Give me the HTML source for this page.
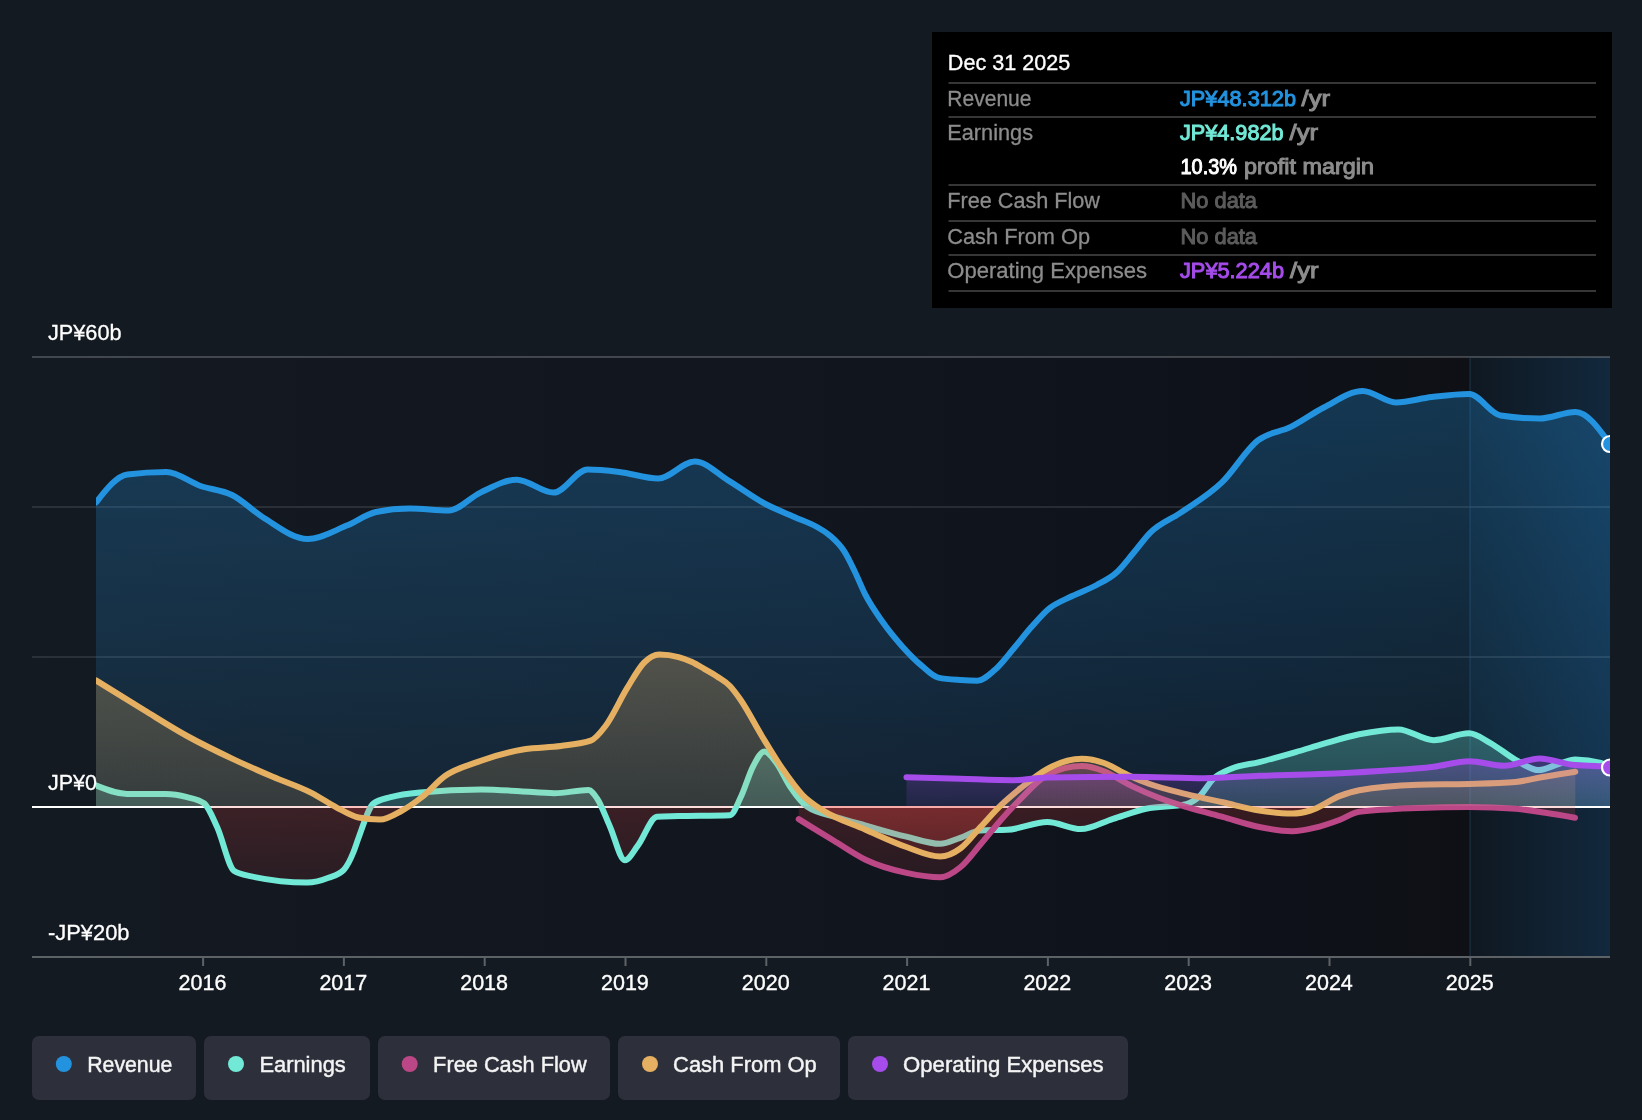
<!DOCTYPE html>
<html><head><meta charset="utf-8"><style>
html,body{margin:0;padding:0;background:#141a22;}
body{width:1642px;height:1120px;overflow:hidden;font-family:"Liberation Sans",sans-serif;}
svg{display:block;will-change:transform;}
</style></head><body>
<svg width="1642" height="1120" viewBox="0 0 1642 1120" font-family='"Liberation Sans", sans-serif'>
<defs>
<linearGradient id="bgG" gradientUnits="userSpaceOnUse" x1="32" y1="0" x2="1470" y2="0"><stop offset="0.0000" stop-color="#141a22"/><stop offset="0.2559" stop-color="#131820"/><stop offset="0.6036" stop-color="#11151e"/><stop offset="0.7427" stop-color="#0f131b"/><stop offset="0.8818" stop-color="#0e1119"/><stop offset="0.9513" stop-color="#0e1116"/><stop offset="1.0000" stop-color="#0e1015"/></linearGradient>
<linearGradient id="hlG" gradientUnits="userSpaceOnUse" x1="1470" y1="0" x2="1610" y2="0"><stop offset="0" stop-color="#0f1821"/><stop offset="1" stop-color="#12283d"/></linearGradient>
<linearGradient id="gRev" gradientUnits="userSpaceOnUse" x1="0" y1="380" x2="0" y2="807"><stop offset="0" stop-color="#2393df" stop-opacity="0.3"/><stop offset="1" stop-color="#2393df" stop-opacity="0.107"/></linearGradient>
<linearGradient id="gEarn" gradientUnits="userSpaceOnUse" x1="0" y1="725" x2="0" y2="807"><stop offset="0" stop-color="#72e9d7" stop-opacity="0.3"/><stop offset="1" stop-color="#72e9d7" stop-opacity="0.2"/></linearGradient>
<linearGradient id="gFcf" gradientUnits="userSpaceOnUse" x1="0" y1="760" x2="0" y2="807"><stop offset="0" stop-color="#bc4787" stop-opacity="0.3"/><stop offset="1" stop-color="#bc4787" stop-opacity="0.15"/></linearGradient>
<linearGradient id="gCfo" gradientUnits="userSpaceOnUse" x1="0" y1="655" x2="0" y2="807"><stop offset="0" stop-color="#e5b062" stop-opacity="0.29"/><stop offset="1" stop-color="#e5b062" stop-opacity="0.15"/></linearGradient>
<linearGradient id="gOpex" gradientUnits="userSpaceOnUse" x1="0" y1="758" x2="0" y2="807"><stop offset="0" stop-color="#a54ceb" stop-opacity="0.3"/><stop offset="1" stop-color="#a54ceb" stop-opacity="0.09"/></linearGradient>
<linearGradient id="gNeg" gradientUnits="userSpaceOnUse" x1="0" y1="807" x2="0" y2="885"><stop offset="0" stop-color="#ee4640" stop-opacity="0.185"/><stop offset="1" stop-color="#ee4640" stop-opacity="0.095"/></linearGradient>
<clipPath id="cp"><rect x="96" y="340" width="1514" height="617"/></clipPath>
<clipPath id="cpPos"><rect x="32" y="340" width="1578" height="466"/></clipPath>
<clipPath id="cpNeg"><rect x="32" y="806" width="1578" height="151"/></clipPath>
<linearGradient id="hlO" gradientUnits="userSpaceOnUse" x1="1470" y1="800" x2="1610" y2="420"><stop offset="0" stop-color="#2394df" stop-opacity="0.0"/><stop offset="1" stop-color="#2394df" stop-opacity="0.15"/></linearGradient>
<clipPath id="cpHL"><rect x="1470" y="340" width="140" height="617"/></clipPath>
</defs>
<rect width="1642" height="1120" fill="#141a22"/>
<rect x="32" y="357" width="1438" height="600" fill="url(#bgG)"/>
<rect x="1470" y="357" width="140" height="600" fill="url(#hlG)"/>
<rect x="32" y="356" width="1578" height="2" fill="#ffffff" fill-opacity="0.2"/>
<rect x="32" y="506" width="1578" height="2" fill="#ffffff" fill-opacity="0.1"/>
<rect x="32" y="656" width="1578" height="2" fill="#ffffff" fill-opacity="0.1"/>
<rect x="1469" y="357" width="2" height="600" fill="#24476a" fill-opacity="0.32"/>
<rect x="32" y="806" width="1578" height="2" fill="#ffffff"/>
<g clip-path="url(#cp)">
<path d="M96,502.5C106.5,489.2 116.9,475.8 127.4,474.5C140.4,472.8 153.4,472 166.4,472C177.8,472 189.1,482.1 200.5,486C211,489.6 221.5,489.7 232,495C242.7,500.3 253.3,511.4 264,518C278.6,527 293.1,539 307.7,539C320.7,539 333.7,531 346.7,525.6C356.5,521.6 366.2,514 376,512C387.3,509.7 398.7,508.6 410,508.6C422.9,508.6 435.8,510.6 448.7,510.6C459.3,510.6 469.8,497.5 480.4,492.6C492.6,486.9 504.7,479.7 516.9,479.7C529.1,479.7 541.3,492.6 553.5,492.6C564.9,492.6 576.2,469.5 587.6,469.5C598.1,469.5 608.7,470.7 619.2,471.9C632.2,473.4 645.2,478.5 658.2,478.5C670.4,478.5 682.6,461.4 694.8,461.4C706.2,461.4 717.5,474.1 728.9,480.9C741.1,488.2 753.2,497.5 765.4,504C775,509.1 784.7,512.7 794.3,517C801.9,520.4 809.4,522.6 817,527C821.3,529.5 825.7,531.9 830,535.7C834.8,539.9 839.5,543.9 844.3,551.4C847.9,557 851.4,564.6 855,572C858.4,579.1 861.9,587.9 865.3,594.7C871,605.8 876.6,613.4 882.3,621.5C888.8,630.8 895.3,638.6 901.8,645.9C908.3,653.2 914.8,659.9 921.3,665.4C927,670.2 932.6,676.4 938.3,677.6C945.6,679.2 953,679.5 960.3,680C966,680.4 971.6,680.7 977.3,680.7C983,680.7 988.7,675.2 994.4,670.3C1000.9,664.8 1007.4,655.9 1013.9,648.3C1019.6,641.6 1025.2,634.1 1030.9,627.6C1036.6,621.1 1042.3,614.3 1048,609.4C1056.1,602.5 1064.2,600.1 1072.3,596C1080.4,591.9 1088.6,589.5 1096.7,585C1103.2,581.4 1109.7,578.7 1116.2,572.8C1121.9,567.7 1127.5,560 1133.2,553.3C1138.9,546.6 1144.6,538.3 1150.3,532.6C1160.2,522.6 1170.1,519.9 1180,513.1C1194,503.5 1207.9,495.9 1221.9,482.4C1233.9,470.8 1245.9,449.7 1257.9,440.4C1268.9,431.9 1279.8,432.4 1290.8,426.9C1301.8,421.4 1312.8,413.1 1323.8,407.5C1336.8,400.8 1349.8,391 1362.8,391C1373.8,391 1384.7,402.4 1395.7,402.4C1407.7,402.4 1419.7,398.4 1431.7,397C1444.2,395.6 1456.6,394 1469.1,394C1479.6,394 1490.1,413.9 1500.6,415.5C1513.6,417.5 1526.6,418.5 1539.6,418.5C1551.6,418.5 1563.5,412 1575.5,412C1587,412 1598.5,428 1610,444L1610,806 L96,806Z" fill="url(#gRev)"/>
<path d="M96,502.5C106.5,489.2 116.9,475.8 127.4,474.5C140.4,472.8 153.4,472 166.4,472C177.8,472 189.1,482.1 200.5,486C211,489.6 221.5,489.7 232,495C242.7,500.3 253.3,511.4 264,518C278.6,527 293.1,539 307.7,539C320.7,539 333.7,531 346.7,525.6C356.5,521.6 366.2,514 376,512C387.3,509.7 398.7,508.6 410,508.6C422.9,508.6 435.8,510.6 448.7,510.6C459.3,510.6 469.8,497.5 480.4,492.6C492.6,486.9 504.7,479.7 516.9,479.7C529.1,479.7 541.3,492.6 553.5,492.6C564.9,492.6 576.2,469.5 587.6,469.5C598.1,469.5 608.7,470.7 619.2,471.9C632.2,473.4 645.2,478.5 658.2,478.5C670.4,478.5 682.6,461.4 694.8,461.4C706.2,461.4 717.5,474.1 728.9,480.9C741.1,488.2 753.2,497.5 765.4,504C775,509.1 784.7,512.7 794.3,517C801.9,520.4 809.4,522.6 817,527C821.3,529.5 825.7,531.9 830,535.7C834.8,539.9 839.5,543.9 844.3,551.4C847.9,557 851.4,564.6 855,572C858.4,579.1 861.9,587.9 865.3,594.7C871,605.8 876.6,613.4 882.3,621.5C888.8,630.8 895.3,638.6 901.8,645.9C908.3,653.2 914.8,659.9 921.3,665.4C927,670.2 932.6,676.4 938.3,677.6C945.6,679.2 953,679.5 960.3,680C966,680.4 971.6,680.7 977.3,680.7C983,680.7 988.7,675.2 994.4,670.3C1000.9,664.8 1007.4,655.9 1013.9,648.3C1019.6,641.6 1025.2,634.1 1030.9,627.6C1036.6,621.1 1042.3,614.3 1048,609.4C1056.1,602.5 1064.2,600.1 1072.3,596C1080.4,591.9 1088.6,589.5 1096.7,585C1103.2,581.4 1109.7,578.7 1116.2,572.8C1121.9,567.7 1127.5,560 1133.2,553.3C1138.9,546.6 1144.6,538.3 1150.3,532.6C1160.2,522.6 1170.1,519.9 1180,513.1C1194,503.5 1207.9,495.9 1221.9,482.4C1233.9,470.8 1245.9,449.7 1257.9,440.4C1268.9,431.9 1279.8,432.4 1290.8,426.9C1301.8,421.4 1312.8,413.1 1323.8,407.5C1336.8,400.8 1349.8,391 1362.8,391C1373.8,391 1384.7,402.4 1395.7,402.4C1407.7,402.4 1419.7,398.4 1431.7,397C1444.2,395.6 1456.6,394 1469.1,394C1479.6,394 1490.1,413.9 1500.6,415.5C1513.6,417.5 1526.6,418.5 1539.6,418.5C1551.6,418.5 1563.5,412 1575.5,412C1587,412 1598.5,428 1610,444" fill="none" stroke="#2393df" stroke-width="6" stroke-linecap="round" stroke-linejoin="round"/>
<path d="M96,785.5C106.4,789.7 116.7,793.9 127.1,793.9C140,793.9 152.8,793.9 165.7,793.9C172.8,793.9 180,795.2 187.1,797.1C192.8,798.7 198.6,799.2 204.3,803.5C208.6,806.7 212.8,817.9 217.1,827.1C222.8,839.4 228.5,867.4 234.2,871C239.9,874.6 245.7,875.1 251.4,876.4C269.9,880.5 288.4,882.6 306.9,882.6C314.1,882.6 321.3,880.7 328.5,877.8C333.6,875.8 338.7,875.1 343.8,869.8C347,866.4 350.3,860 353.5,852C355.2,847.9 356.8,842.5 358.5,838C363.5,824.6 368.5,807.2 373.5,803.5C379.2,799.2 384.9,798.8 390.6,797.1C400.4,794.2 410.2,793.3 420,792.4C440.5,790.5 460.9,789.5 481.4,789.5C494.3,789.5 507.1,790.5 520,791.2C531.4,791.8 542.8,793.2 554.2,793.2C565.6,793.2 577.1,790 588.5,790C591.4,790 594.2,794.3 597.1,798.5C601.4,804.8 605.6,817 609.9,826.4C614.9,837.5 619.9,860.2 624.9,860.2C629.2,860.2 633.5,851.2 637.8,845.7C644.2,837.5 650.7,817.1 657.1,816.7C664.2,816.3 671.4,816.3 678.5,816.1C695.6,815.7 712.8,815.8 729.9,815.2C733.5,815.1 737.1,804.7 740.7,797.3C744.8,788.8 749,774.1 753.1,766.3C756.9,759.2 760.7,751.4 764.5,751.4C768.3,751.4 772.1,757.2 775.9,762.1C780.7,768.3 785.6,779.9 790.4,787C795.9,795.1 801.5,802.6 807,806.6C816.7,813.5 826.3,813.9 836,817C845.7,820.1 855.3,822.6 865,825.3C878.8,829.2 892.6,833.4 906.4,836.7C917.7,839.4 928.9,843.8 940.2,843.8C946.9,843.8 953.6,840 960.3,837.8C967,835.6 973.7,830.7 980.4,830.4C989.3,830 998.3,830.2 1007.2,829.8C1020.6,829.2 1034,822 1047.4,822C1058.5,822 1069.7,829.1 1080.8,829.1C1091.6,829.1 1102.3,822.2 1113.1,818.8C1124.1,815.4 1135,811.1 1146,808.7C1159.4,805.7 1172.8,807.2 1186.2,804.1C1190.5,803.1 1194.7,800.6 1199,796.8C1203.9,792.5 1208.7,783.2 1213.6,778.6C1219.7,772.9 1225.8,771.1 1231.9,768.5C1241,764.6 1250.2,764.4 1259.3,762.1C1271.5,759 1283.6,755.6 1295.8,752.1C1304.9,749.5 1314.1,746.5 1323.2,743.9C1335.2,740.5 1347.2,736.7 1359.2,734.3C1372.3,731.7 1385.3,729.4 1398.4,729.4C1410.2,729.4 1421.9,740.2 1433.7,740.2C1445.5,740.2 1457.2,733.3 1469,733.3C1476,733.3 1483,739 1490,742.8C1498.5,747.5 1507.1,755.1 1515.6,759.8C1523.3,764 1530.9,770.1 1538.6,770.1C1545.1,770.1 1551.7,766 1558.2,764.1C1563.9,762.5 1569.6,759.4 1575.3,759.4C1583.8,759.4 1592.3,760.5 1600.8,762.8C1603.9,763.6 1606.9,766.6 1610,769.6L1610,806 L96,806Z" fill="url(#gEarn)" clip-path="url(#cpPos)"/>
<path d="M96,785.5C106.4,789.7 116.7,793.9 127.1,793.9C140,793.9 152.8,793.9 165.7,793.9C172.8,793.9 180,795.2 187.1,797.1C192.8,798.7 198.6,799.2 204.3,803.5C208.6,806.7 212.8,817.9 217.1,827.1C222.8,839.4 228.5,867.4 234.2,871C239.9,874.6 245.7,875.1 251.4,876.4C269.9,880.5 288.4,882.6 306.9,882.6C314.1,882.6 321.3,880.7 328.5,877.8C333.6,875.8 338.7,875.1 343.8,869.8C347,866.4 350.3,860 353.5,852C355.2,847.9 356.8,842.5 358.5,838C363.5,824.6 368.5,807.2 373.5,803.5C379.2,799.2 384.9,798.8 390.6,797.1C400.4,794.2 410.2,793.3 420,792.4C440.5,790.5 460.9,789.5 481.4,789.5C494.3,789.5 507.1,790.5 520,791.2C531.4,791.8 542.8,793.2 554.2,793.2C565.6,793.2 577.1,790 588.5,790C591.4,790 594.2,794.3 597.1,798.5C601.4,804.8 605.6,817 609.9,826.4C614.9,837.5 619.9,860.2 624.9,860.2C629.2,860.2 633.5,851.2 637.8,845.7C644.2,837.5 650.7,817.1 657.1,816.7C664.2,816.3 671.4,816.3 678.5,816.1C695.6,815.7 712.8,815.8 729.9,815.2C733.5,815.1 737.1,804.7 740.7,797.3C744.8,788.8 749,774.1 753.1,766.3C756.9,759.2 760.7,751.4 764.5,751.4C768.3,751.4 772.1,757.2 775.9,762.1C780.7,768.3 785.6,779.9 790.4,787C795.9,795.1 801.5,802.6 807,806.6C816.7,813.5 826.3,813.9 836,817C845.7,820.1 855.3,822.6 865,825.3C878.8,829.2 892.6,833.4 906.4,836.7C917.7,839.4 928.9,843.8 940.2,843.8C946.9,843.8 953.6,840 960.3,837.8C967,835.6 973.7,830.7 980.4,830.4C989.3,830 998.3,830.2 1007.2,829.8C1020.6,829.2 1034,822 1047.4,822C1058.5,822 1069.7,829.1 1080.8,829.1C1091.6,829.1 1102.3,822.2 1113.1,818.8C1124.1,815.4 1135,811.1 1146,808.7C1159.4,805.7 1172.8,807.2 1186.2,804.1C1190.5,803.1 1194.7,800.6 1199,796.8C1203.9,792.5 1208.7,783.2 1213.6,778.6C1219.7,772.9 1225.8,771.1 1231.9,768.5C1241,764.6 1250.2,764.4 1259.3,762.1C1271.5,759 1283.6,755.6 1295.8,752.1C1304.9,749.5 1314.1,746.5 1323.2,743.9C1335.2,740.5 1347.2,736.7 1359.2,734.3C1372.3,731.7 1385.3,729.4 1398.4,729.4C1410.2,729.4 1421.9,740.2 1433.7,740.2C1445.5,740.2 1457.2,733.3 1469,733.3C1476,733.3 1483,739 1490,742.8C1498.5,747.5 1507.1,755.1 1515.6,759.8C1523.3,764 1530.9,770.1 1538.6,770.1C1545.1,770.1 1551.7,766 1558.2,764.1C1563.9,762.5 1569.6,759.4 1575.3,759.4C1583.8,759.4 1592.3,760.5 1600.8,762.8C1603.9,763.6 1606.9,766.6 1610,769.6L1610,806 L96,806Z" fill="url(#gNeg)" clip-path="url(#cpNeg)"/>
<path d="M96,785.5C106.4,789.7 116.7,793.9 127.1,793.9C140,793.9 152.8,793.9 165.7,793.9C172.8,793.9 180,795.2 187.1,797.1C192.8,798.7 198.6,799.2 204.3,803.5C208.6,806.7 212.8,817.9 217.1,827.1C222.8,839.4 228.5,867.4 234.2,871C239.9,874.6 245.7,875.1 251.4,876.4C269.9,880.5 288.4,882.6 306.9,882.6C314.1,882.6 321.3,880.7 328.5,877.8C333.6,875.8 338.7,875.1 343.8,869.8C347,866.4 350.3,860 353.5,852C355.2,847.9 356.8,842.5 358.5,838C363.5,824.6 368.5,807.2 373.5,803.5C379.2,799.2 384.9,798.8 390.6,797.1C400.4,794.2 410.2,793.3 420,792.4C440.5,790.5 460.9,789.5 481.4,789.5C494.3,789.5 507.1,790.5 520,791.2C531.4,791.8 542.8,793.2 554.2,793.2C565.6,793.2 577.1,790 588.5,790C591.4,790 594.2,794.3 597.1,798.5C601.4,804.8 605.6,817 609.9,826.4C614.9,837.5 619.9,860.2 624.9,860.2C629.2,860.2 633.5,851.2 637.8,845.7C644.2,837.5 650.7,817.1 657.1,816.7C664.2,816.3 671.4,816.3 678.5,816.1C695.6,815.7 712.8,815.8 729.9,815.2C733.5,815.1 737.1,804.7 740.7,797.3C744.8,788.8 749,774.1 753.1,766.3C756.9,759.2 760.7,751.4 764.5,751.4C768.3,751.4 772.1,757.2 775.9,762.1C780.7,768.3 785.6,779.9 790.4,787C795.9,795.1 801.5,802.6 807,806.6C816.7,813.5 826.3,813.9 836,817C845.7,820.1 855.3,822.6 865,825.3C878.8,829.2 892.6,833.4 906.4,836.7C917.7,839.4 928.9,843.8 940.2,843.8C946.9,843.8 953.6,840 960.3,837.8C967,835.6 973.7,830.7 980.4,830.4C989.3,830 998.3,830.2 1007.2,829.8C1020.6,829.2 1034,822 1047.4,822C1058.5,822 1069.7,829.1 1080.8,829.1C1091.6,829.1 1102.3,822.2 1113.1,818.8C1124.1,815.4 1135,811.1 1146,808.7C1159.4,805.7 1172.8,807.2 1186.2,804.1C1190.5,803.1 1194.7,800.6 1199,796.8C1203.9,792.5 1208.7,783.2 1213.6,778.6C1219.7,772.9 1225.8,771.1 1231.9,768.5C1241,764.6 1250.2,764.4 1259.3,762.1C1271.5,759 1283.6,755.6 1295.8,752.1C1304.9,749.5 1314.1,746.5 1323.2,743.9C1335.2,740.5 1347.2,736.7 1359.2,734.3C1372.3,731.7 1385.3,729.4 1398.4,729.4C1410.2,729.4 1421.9,740.2 1433.7,740.2C1445.5,740.2 1457.2,733.3 1469,733.3C1476,733.3 1483,739 1490,742.8C1498.5,747.5 1507.1,755.1 1515.6,759.8C1523.3,764 1530.9,770.1 1538.6,770.1C1545.1,770.1 1551.7,766 1558.2,764.1C1563.9,762.5 1569.6,759.4 1575.3,759.4C1583.8,759.4 1592.3,760.5 1600.8,762.8C1603.9,763.6 1606.9,766.6 1610,769.6" fill="none" stroke="#72e9d7" stroke-width="6" stroke-linecap="round" stroke-linejoin="round"/>
<path d="M798.7,819.1C810.4,826.4 822.2,833.7 833.9,840.8C844.3,847.1 854.6,854.5 865,859.5C878.8,866.2 892.6,869.9 906.4,872.9C917.7,875.3 928.9,877.3 940.2,877.3C946.9,877.3 953.6,872.8 960.3,867.3C967,861.8 973.7,852.3 980.4,844.5C987.1,836.7 993.8,828 1000.5,820.4C1007.2,812.8 1013.9,805.6 1020.6,798.9C1029.5,790 1038.5,779.3 1047.4,774.8C1058.9,769 1070.5,766.1 1082,766.1C1089.3,766.1 1096.7,768.6 1104,771.3C1113.1,774.7 1122.3,781.5 1131.4,785.9C1140.5,790.3 1149.7,794.3 1158.8,797.8C1167.9,801.3 1177.1,804.1 1186.2,806.9C1198.4,810.6 1210.5,813.6 1222.7,816.9C1234.9,820.3 1247.1,824.6 1259.3,827C1270.2,829.2 1281.2,831.2 1292.1,831.2C1299.4,831.2 1306.8,829.6 1314.1,827.9C1322.7,825.9 1331.4,822.9 1340,819.7C1346.4,817.3 1352.8,812.6 1359.2,811.8C1378.8,809.2 1398.4,808.7 1418,807.9C1435,807.2 1452,806.9 1469,806.9C1484.7,806.9 1500.4,807.5 1516.1,808.8C1525.9,809.6 1535.7,811.3 1545.5,812.8C1555.3,814.3 1565.2,816 1575,817.7L1575,806 L798.7,806Z" fill="url(#gFcf)" clip-path="url(#cpPos)"/>
<path d="M798.7,819.1C810.4,826.4 822.2,833.7 833.9,840.8C844.3,847.1 854.6,854.5 865,859.5C878.8,866.2 892.6,869.9 906.4,872.9C917.7,875.3 928.9,877.3 940.2,877.3C946.9,877.3 953.6,872.8 960.3,867.3C967,861.8 973.7,852.3 980.4,844.5C987.1,836.7 993.8,828 1000.5,820.4C1007.2,812.8 1013.9,805.6 1020.6,798.9C1029.5,790 1038.5,779.3 1047.4,774.8C1058.9,769 1070.5,766.1 1082,766.1C1089.3,766.1 1096.7,768.6 1104,771.3C1113.1,774.7 1122.3,781.5 1131.4,785.9C1140.5,790.3 1149.7,794.3 1158.8,797.8C1167.9,801.3 1177.1,804.1 1186.2,806.9C1198.4,810.6 1210.5,813.6 1222.7,816.9C1234.9,820.3 1247.1,824.6 1259.3,827C1270.2,829.2 1281.2,831.2 1292.1,831.2C1299.4,831.2 1306.8,829.6 1314.1,827.9C1322.7,825.9 1331.4,822.9 1340,819.7C1346.4,817.3 1352.8,812.6 1359.2,811.8C1378.8,809.2 1398.4,808.7 1418,807.9C1435,807.2 1452,806.9 1469,806.9C1484.7,806.9 1500.4,807.5 1516.1,808.8C1525.9,809.6 1535.7,811.3 1545.5,812.8C1555.3,814.3 1565.2,816 1575,817.7L1575,806 L798.7,806Z" fill="url(#gNeg)" clip-path="url(#cpNeg)"/>
<path d="M798.7,819.1C810.4,826.4 822.2,833.7 833.9,840.8C844.3,847.1 854.6,854.5 865,859.5C878.8,866.2 892.6,869.9 906.4,872.9C917.7,875.3 928.9,877.3 940.2,877.3C946.9,877.3 953.6,872.8 960.3,867.3C967,861.8 973.7,852.3 980.4,844.5C987.1,836.7 993.8,828 1000.5,820.4C1007.2,812.8 1013.9,805.6 1020.6,798.9C1029.5,790 1038.5,779.3 1047.4,774.8C1058.9,769 1070.5,766.1 1082,766.1C1089.3,766.1 1096.7,768.6 1104,771.3C1113.1,774.7 1122.3,781.5 1131.4,785.9C1140.5,790.3 1149.7,794.3 1158.8,797.8C1167.9,801.3 1177.1,804.1 1186.2,806.9C1198.4,810.6 1210.5,813.6 1222.7,816.9C1234.9,820.3 1247.1,824.6 1259.3,827C1270.2,829.2 1281.2,831.2 1292.1,831.2C1299.4,831.2 1306.8,829.6 1314.1,827.9C1322.7,825.9 1331.4,822.9 1340,819.7C1346.4,817.3 1352.8,812.6 1359.2,811.8C1378.8,809.2 1398.4,808.7 1418,807.9C1435,807.2 1452,806.9 1469,806.9C1484.7,806.9 1500.4,807.5 1516.1,808.8C1525.9,809.6 1535.7,811.3 1545.5,812.8C1555.3,814.3 1565.2,816 1575,817.7" fill="none" stroke="#bc4787" stroke-width="6" stroke-linecap="round" stroke-linejoin="round"/>
<path d="M96,680.4C112.1,690.4 128.2,700.5 144.3,710.3C158.6,719 172.8,728.1 187.1,736C202.8,744.7 218.5,752.2 234.2,759.6C247.1,765.7 259.9,771.3 272.8,776.8C285.7,782.3 298.5,786.2 311.4,792.8C320,797.2 328.5,803.4 337.1,807.8C344.2,811.5 351.4,816.1 358.5,817.5C365.6,818.9 372.8,819.6 379.9,819.6C387,819.6 394.2,814.9 401.3,811C408,807.4 414.7,802.7 421.4,797.5C429.3,791.4 437.1,781.6 445,776C455.7,768.4 466.4,766 477.1,762.1C492.8,756.3 508.6,752 524.3,749.3C536.4,747.2 548.6,747.7 560.7,746C570.7,744.6 580.7,744.2 590.7,740.7C595.7,738.9 600.7,732.3 605.7,725.7C612.8,716.4 620,699.7 627.1,688.2C632.8,679 638.5,668.1 644.2,662.5C649.2,657.6 654.2,654.6 659.2,654.6C665.6,654.6 672.1,655.4 678.5,657.1C683,658.3 687.5,659.9 692,662C696.1,663.9 700.1,666.5 704.2,668.9C708.5,671.4 712.7,673.7 717,676.5C721.3,679.4 725.6,681.5 729.9,686C733.5,689.7 737.1,694.8 740.7,700C747.6,709.9 754.5,723.8 761.4,735.2C768.3,746.6 775.2,758.3 782.1,768.3C789,778.3 795.9,788.2 802.8,795.3C809.7,802.4 816.6,806.3 823.5,810.8C837.3,819.8 851.2,823.4 865,829.4C878.8,835.4 892.6,842.2 906.4,847C917.7,850.9 928.9,856.5 940.2,856.5C946.9,856.5 953.6,853.4 960.3,848.5C967,843.6 973.7,834.2 980.4,827.1C987.1,820 993.8,812.1 1000.5,805.6C1007.2,799.1 1013.9,793.6 1020.6,788.2C1029.5,781 1038.5,773.6 1047.4,768.8C1058.9,762.6 1070.5,758.8 1082,758.8C1089.3,758.8 1096.7,760.5 1104,763C1111.9,765.7 1119.8,771.3 1127.7,774.9C1135,778.2 1142.3,781.3 1149.6,784C1161.8,788.4 1174,791 1186.2,794.1C1198.4,797.1 1210.5,799.6 1222.7,802.3C1234.9,805 1247.1,808.6 1259.3,810.5C1270.2,812.2 1281.2,813.6 1292.1,813.6C1298.2,813.6 1304.3,812.3 1310.4,810.5C1320.3,807.6 1330.1,799.6 1340,795.9C1346.4,793.5 1352.8,791.4 1359.2,790.2C1378.8,786.5 1398.4,785.3 1418,784.7C1435,784.2 1452,784.4 1469,783.9C1484.5,783.5 1500.1,783.3 1515.6,782C1524.1,781.3 1532.7,778.8 1541.2,777.3C1552.6,775.3 1563.9,773.6 1575.3,771.8L1575.3,806 L96,806Z" fill="url(#gCfo)" clip-path="url(#cpPos)"/>
<path d="M96,680.4C112.1,690.4 128.2,700.5 144.3,710.3C158.6,719 172.8,728.1 187.1,736C202.8,744.7 218.5,752.2 234.2,759.6C247.1,765.7 259.9,771.3 272.8,776.8C285.7,782.3 298.5,786.2 311.4,792.8C320,797.2 328.5,803.4 337.1,807.8C344.2,811.5 351.4,816.1 358.5,817.5C365.6,818.9 372.8,819.6 379.9,819.6C387,819.6 394.2,814.9 401.3,811C408,807.4 414.7,802.7 421.4,797.5C429.3,791.4 437.1,781.6 445,776C455.7,768.4 466.4,766 477.1,762.1C492.8,756.3 508.6,752 524.3,749.3C536.4,747.2 548.6,747.7 560.7,746C570.7,744.6 580.7,744.2 590.7,740.7C595.7,738.9 600.7,732.3 605.7,725.7C612.8,716.4 620,699.7 627.1,688.2C632.8,679 638.5,668.1 644.2,662.5C649.2,657.6 654.2,654.6 659.2,654.6C665.6,654.6 672.1,655.4 678.5,657.1C683,658.3 687.5,659.9 692,662C696.1,663.9 700.1,666.5 704.2,668.9C708.5,671.4 712.7,673.7 717,676.5C721.3,679.4 725.6,681.5 729.9,686C733.5,689.7 737.1,694.8 740.7,700C747.6,709.9 754.5,723.8 761.4,735.2C768.3,746.6 775.2,758.3 782.1,768.3C789,778.3 795.9,788.2 802.8,795.3C809.7,802.4 816.6,806.3 823.5,810.8C837.3,819.8 851.2,823.4 865,829.4C878.8,835.4 892.6,842.2 906.4,847C917.7,850.9 928.9,856.5 940.2,856.5C946.9,856.5 953.6,853.4 960.3,848.5C967,843.6 973.7,834.2 980.4,827.1C987.1,820 993.8,812.1 1000.5,805.6C1007.2,799.1 1013.9,793.6 1020.6,788.2C1029.5,781 1038.5,773.6 1047.4,768.8C1058.9,762.6 1070.5,758.8 1082,758.8C1089.3,758.8 1096.7,760.5 1104,763C1111.9,765.7 1119.8,771.3 1127.7,774.9C1135,778.2 1142.3,781.3 1149.6,784C1161.8,788.4 1174,791 1186.2,794.1C1198.4,797.1 1210.5,799.6 1222.7,802.3C1234.9,805 1247.1,808.6 1259.3,810.5C1270.2,812.2 1281.2,813.6 1292.1,813.6C1298.2,813.6 1304.3,812.3 1310.4,810.5C1320.3,807.6 1330.1,799.6 1340,795.9C1346.4,793.5 1352.8,791.4 1359.2,790.2C1378.8,786.5 1398.4,785.3 1418,784.7C1435,784.2 1452,784.4 1469,783.9C1484.5,783.5 1500.1,783.3 1515.6,782C1524.1,781.3 1532.7,778.8 1541.2,777.3C1552.6,775.3 1563.9,773.6 1575.3,771.8L1575.3,806 L96,806Z" fill="url(#gNeg)" clip-path="url(#cpNeg)"/>
<path d="M96,680.4C112.1,690.4 128.2,700.5 144.3,710.3C158.6,719 172.8,728.1 187.1,736C202.8,744.7 218.5,752.2 234.2,759.6C247.1,765.7 259.9,771.3 272.8,776.8C285.7,782.3 298.5,786.2 311.4,792.8C320,797.2 328.5,803.4 337.1,807.8C344.2,811.5 351.4,816.1 358.5,817.5C365.6,818.9 372.8,819.6 379.9,819.6C387,819.6 394.2,814.9 401.3,811C408,807.4 414.7,802.7 421.4,797.5C429.3,791.4 437.1,781.6 445,776C455.7,768.4 466.4,766 477.1,762.1C492.8,756.3 508.6,752 524.3,749.3C536.4,747.2 548.6,747.7 560.7,746C570.7,744.6 580.7,744.2 590.7,740.7C595.7,738.9 600.7,732.3 605.7,725.7C612.8,716.4 620,699.7 627.1,688.2C632.8,679 638.5,668.1 644.2,662.5C649.2,657.6 654.2,654.6 659.2,654.6C665.6,654.6 672.1,655.4 678.5,657.1C683,658.3 687.5,659.9 692,662C696.1,663.9 700.1,666.5 704.2,668.9C708.5,671.4 712.7,673.7 717,676.5C721.3,679.4 725.6,681.5 729.9,686C733.5,689.7 737.1,694.8 740.7,700C747.6,709.9 754.5,723.8 761.4,735.2C768.3,746.6 775.2,758.3 782.1,768.3C789,778.3 795.9,788.2 802.8,795.3C809.7,802.4 816.6,806.3 823.5,810.8C837.3,819.8 851.2,823.4 865,829.4C878.8,835.4 892.6,842.2 906.4,847C917.7,850.9 928.9,856.5 940.2,856.5C946.9,856.5 953.6,853.4 960.3,848.5C967,843.6 973.7,834.2 980.4,827.1C987.1,820 993.8,812.1 1000.5,805.6C1007.2,799.1 1013.9,793.6 1020.6,788.2C1029.5,781 1038.5,773.6 1047.4,768.8C1058.9,762.6 1070.5,758.8 1082,758.8C1089.3,758.8 1096.7,760.5 1104,763C1111.9,765.7 1119.8,771.3 1127.7,774.9C1135,778.2 1142.3,781.3 1149.6,784C1161.8,788.4 1174,791 1186.2,794.1C1198.4,797.1 1210.5,799.6 1222.7,802.3C1234.9,805 1247.1,808.6 1259.3,810.5C1270.2,812.2 1281.2,813.6 1292.1,813.6C1298.2,813.6 1304.3,812.3 1310.4,810.5C1320.3,807.6 1330.1,799.6 1340,795.9C1346.4,793.5 1352.8,791.4 1359.2,790.2C1378.8,786.5 1398.4,785.3 1418,784.7C1435,784.2 1452,784.4 1469,783.9C1484.5,783.5 1500.1,783.3 1515.6,782C1524.1,781.3 1532.7,778.8 1541.2,777.3C1552.6,775.3 1563.9,773.6 1575.3,771.8" fill="none" stroke="#e5b062" stroke-width="6" stroke-linecap="round" stroke-linejoin="round"/>
<path d="M906.5,777.2C924.4,777.7 942.4,778.3 960.3,778.8C978.2,779.3 996,780.2 1013.9,780.2C1025.1,780.2 1036.2,777.7 1047.4,777.5C1075.4,777 1103.4,776.7 1131.4,776.7C1155.7,776.7 1180.1,778.2 1204.4,778.2C1222.7,778.2 1241,776.5 1259.3,775.8C1279.5,775.1 1299.8,774.9 1320,774.1C1339.6,773.3 1359.2,772.3 1378.8,771C1397.1,769.8 1415.4,769 1433.7,766.7C1445.5,765.2 1457.2,761.2 1469,761.2C1480.8,761.2 1492.5,765.7 1504.3,765.7C1516.1,765.7 1527.8,758.4 1539.6,758.4C1551.4,758.4 1563.2,764.1 1575,765.1C1583.6,765.8 1592.2,765.5 1600.8,766.2C1603.9,766.5 1606.9,767 1610,767.5L1610,806 L906.5,806Z" fill="url(#gOpex)" clip-path="url(#cpPos)"/>
<path d="M906.5,777.2C924.4,777.7 942.4,778.3 960.3,778.8C978.2,779.3 996,780.2 1013.9,780.2C1025.1,780.2 1036.2,777.7 1047.4,777.5C1075.4,777 1103.4,776.7 1131.4,776.7C1155.7,776.7 1180.1,778.2 1204.4,778.2C1222.7,778.2 1241,776.5 1259.3,775.8C1279.5,775.1 1299.8,774.9 1320,774.1C1339.6,773.3 1359.2,772.3 1378.8,771C1397.1,769.8 1415.4,769 1433.7,766.7C1445.5,765.2 1457.2,761.2 1469,761.2C1480.8,761.2 1492.5,765.7 1504.3,765.7C1516.1,765.7 1527.8,758.4 1539.6,758.4C1551.4,758.4 1563.2,764.1 1575,765.1C1583.6,765.8 1592.2,765.5 1600.8,766.2C1603.9,766.5 1606.9,767 1610,767.5L1610,806 L906.5,806Z" fill="url(#gNeg)" clip-path="url(#cpNeg)"/>
<path d="M906.5,777.2C924.4,777.7 942.4,778.3 960.3,778.8C978.2,779.3 996,780.2 1013.9,780.2C1025.1,780.2 1036.2,777.7 1047.4,777.5C1075.4,777 1103.4,776.7 1131.4,776.7C1155.7,776.7 1180.1,778.2 1204.4,778.2C1222.7,778.2 1241,776.5 1259.3,775.8C1279.5,775.1 1299.8,774.9 1320,774.1C1339.6,773.3 1359.2,772.3 1378.8,771C1397.1,769.8 1415.4,769 1433.7,766.7C1445.5,765.2 1457.2,761.2 1469,761.2C1480.8,761.2 1492.5,765.7 1504.3,765.7C1516.1,765.7 1527.8,758.4 1539.6,758.4C1551.4,758.4 1563.2,764.1 1575,765.1C1583.6,765.8 1592.2,765.5 1600.8,766.2C1603.9,766.5 1606.9,767 1610,767.5" fill="none" stroke="#a54ceb" stroke-width="6" stroke-linecap="round" stroke-linejoin="round"/>
<circle cx="1610" cy="444" r="8" fill="#2393df" stroke="#fff" stroke-width="2.2"/>
<circle cx="1610" cy="767.5" r="8" fill="#a54ceb" stroke="#fff" stroke-width="2.2"/>
</g>
<rect x="32" y="956" width="1578" height="2" fill="#5d6266"/>
<rect x="202.1" y="957" width="2" height="9" fill="#5d6266"/>
<text x="202.5" y="990" fill="#fff" font-size="21.5" text-anchor="middle" stroke="#fff" stroke-width="0.35">2016</text>
<rect x="342.9" y="957" width="2" height="9" fill="#5d6266"/>
<text x="343.3" y="990" fill="#fff" font-size="21.5" text-anchor="middle" stroke="#fff" stroke-width="0.35">2017</text>
<rect x="483.7" y="957" width="2" height="9" fill="#5d6266"/>
<text x="484.1" y="990" fill="#fff" font-size="21.5" text-anchor="middle" stroke="#fff" stroke-width="0.35">2018</text>
<rect x="624.5" y="957" width="2" height="9" fill="#5d6266"/>
<text x="624.9" y="990" fill="#fff" font-size="21.5" text-anchor="middle" stroke="#fff" stroke-width="0.35">2019</text>
<rect x="765.3" y="957" width="2" height="9" fill="#5d6266"/>
<text x="765.7" y="990" fill="#fff" font-size="21.5" text-anchor="middle" stroke="#fff" stroke-width="0.35">2020</text>
<rect x="906.1" y="957" width="2" height="9" fill="#5d6266"/>
<text x="906.5" y="990" fill="#fff" font-size="21.5" text-anchor="middle" stroke="#fff" stroke-width="0.35">2021</text>
<rect x="1046.9" y="957" width="2" height="9" fill="#5d6266"/>
<text x="1047.3" y="990" fill="#fff" font-size="21.5" text-anchor="middle" stroke="#fff" stroke-width="0.35">2022</text>
<rect x="1187.7" y="957" width="2" height="9" fill="#5d6266"/>
<text x="1188.1" y="990" fill="#fff" font-size="21.5" text-anchor="middle" stroke="#fff" stroke-width="0.35">2023</text>
<rect x="1328.5" y="957" width="2" height="9" fill="#5d6266"/>
<text x="1328.9" y="990" fill="#fff" font-size="21.5" text-anchor="middle" stroke="#fff" stroke-width="0.35">2024</text>
<rect x="1469.3" y="957" width="2" height="9" fill="#5d6266"/>
<text x="1469.7" y="990" fill="#fff" font-size="21.5" text-anchor="middle" stroke="#fff" stroke-width="0.35">2025</text>
<text x="48" y="340" fill="#fff" stroke="#fff" stroke-width="0.3" font-size="21.5" textLength="73.5" lengthAdjust="spacingAndGlyphs">JP¥60b</text>
<text x="48" y="790" fill="#fff" stroke="#fff" stroke-width="0.3" font-size="21.5" textLength="49" lengthAdjust="spacingAndGlyphs">JP¥0</text>
<text x="48" y="940" fill="#fff" stroke="#fff" stroke-width="0.3" font-size="21.5" textLength="81.5" lengthAdjust="spacingAndGlyphs">-JP¥20b</text>
<rect x="932" y="32" width="680" height="276" fill="#000"/>
<rect x="948.5" y="82" width="647.5" height="2" fill="#363636"/>
<rect x="948.5" y="116" width="647.5" height="2" fill="#363636"/>
<rect x="948.5" y="184" width="647.5" height="2" fill="#363636"/>
<rect x="948.5" y="220" width="647.5" height="2" fill="#363636"/>
<rect x="948.5" y="254" width="647.5" height="2" fill="#363636"/>
<rect x="948.5" y="290" width="647.5" height="2" fill="#363636"/>
<text x="947.8" y="70.2" fill="#fff" font-size="22.2" stroke="#fff" stroke-width="0.35" textLength="122.5" lengthAdjust="spacingAndGlyphs">Dec 31 2025</text>
<text x="947.3" y="106" fill="#8c8c8c" font-size="22.2" stroke="#8c8c8c" stroke-width="0.3" textLength="84.2" lengthAdjust="spacingAndGlyphs">Revenue</text>
<text x="947.3" y="140" fill="#8c8c8c" font-size="22.2" stroke="#8c8c8c" stroke-width="0.3" textLength="85.7" lengthAdjust="spacingAndGlyphs">Earnings</text>
<text x="947.3" y="208" fill="#8c8c8c" font-size="22.2" stroke="#8c8c8c" stroke-width="0.3" textLength="152.7" lengthAdjust="spacingAndGlyphs">Free Cash Flow</text>
<text x="947.3" y="243.6" fill="#8c8c8c" font-size="22.2" stroke="#8c8c8c" stroke-width="0.3" textLength="142.7" lengthAdjust="spacingAndGlyphs">Cash From Op</text>
<text x="947.3" y="277.7" fill="#8c8c8c" font-size="22.2" stroke="#8c8c8c" stroke-width="0.3" textLength="199.7" lengthAdjust="spacingAndGlyphs">Operating Expenses</text>
<text x="1180" y="106" fill="#2393df" font-size="22.2" stroke="#2393df" stroke-width="1.0" textLength="116" lengthAdjust="spacingAndGlyphs">JP¥48.312b</text>
<text x="1301.5" y="106" fill="#8c8c8c" font-size="22.2" stroke="#8c8c8c" stroke-width="1.0" textLength="28.5" lengthAdjust="spacingAndGlyphs">/yr</text>
<text x="1180" y="140" fill="#72e9d7" font-size="22.2" stroke="#72e9d7" stroke-width="1.0" textLength="103.5" lengthAdjust="spacingAndGlyphs">JP¥4.982b</text>
<text x="1289.5" y="140" fill="#8c8c8c" font-size="22.2" stroke="#8c8c8c" stroke-width="1.0" textLength="28.5" lengthAdjust="spacingAndGlyphs">/yr</text>
<text x="1180.5" y="174" fill="#fff" font-size="22.2" stroke="#fff" stroke-width="1.0" textLength="56.5" lengthAdjust="spacingAndGlyphs">10.3%</text>
<text x="1244" y="174" fill="#8c8c8c" font-size="22.2" stroke="#8c8c8c" stroke-width="1.0" textLength="130" lengthAdjust="spacingAndGlyphs">profit margin</text>
<text x="1180.5" y="208" fill="#5c5c5c" font-size="22.2" stroke="#5c5c5c" stroke-width="1.0" textLength="76.5" lengthAdjust="spacingAndGlyphs">No data</text>
<text x="1180.5" y="243.6" fill="#5c5c5c" font-size="22.2" stroke="#5c5c5c" stroke-width="1.0" textLength="76.5" lengthAdjust="spacingAndGlyphs">No data</text>
<text x="1180" y="277.7" fill="#a54ceb" font-size="22.2" stroke="#a54ceb" stroke-width="1.0" textLength="104" lengthAdjust="spacingAndGlyphs">JP¥5.224b</text>
<text x="1290" y="277.7" fill="#8c8c8c" font-size="22.2" stroke="#8c8c8c" stroke-width="1.0" textLength="28.5" lengthAdjust="spacingAndGlyphs">/yr</text>
<rect x="32" y="1036" width="164" height="64" rx="7" fill="#2d303a"/>
<circle cx="63.8" cy="1064" r="8" fill="#2393df"/>
<text x="87.2" y="1072" fill="#f4f4f4" font-size="22.6" stroke="#f4f4f4" stroke-width="0.45" textLength="85.2" lengthAdjust="spacingAndGlyphs">Revenue</text>
<rect x="204" y="1036" width="166" height="64" rx="7" fill="#2d303a"/>
<circle cx="236" cy="1064" r="8" fill="#72e9d7"/>
<text x="259.4" y="1072" fill="#f4f4f4" font-size="22.6" stroke="#f4f4f4" stroke-width="0.45" textLength="86.4" lengthAdjust="spacingAndGlyphs">Earnings</text>
<rect x="378" y="1036" width="232" height="64" rx="7" fill="#2d303a"/>
<circle cx="409.7" cy="1064" r="8" fill="#bc4787"/>
<text x="433.1" y="1072" fill="#f4f4f4" font-size="22.6" stroke="#f4f4f4" stroke-width="0.45" textLength="153.6" lengthAdjust="spacingAndGlyphs">Free Cash Flow</text>
<rect x="618" y="1036" width="222" height="64" rx="7" fill="#2d303a"/>
<circle cx="650" cy="1064" r="8" fill="#e5b062"/>
<text x="673.1" y="1072" fill="#f4f4f4" font-size="22.6" stroke="#f4f4f4" stroke-width="0.45" textLength="143.7" lengthAdjust="spacingAndGlyphs">Cash From Op</text>
<rect x="848" y="1036" width="280" height="64" rx="7" fill="#2d303a"/>
<circle cx="880" cy="1064" r="8" fill="#a54ceb"/>
<text x="903.1" y="1072" fill="#f4f4f4" font-size="22.6" stroke="#f4f4f4" stroke-width="0.45" textLength="200.5" lengthAdjust="spacingAndGlyphs">Operating Expenses</text>
</svg>
</body></html>
